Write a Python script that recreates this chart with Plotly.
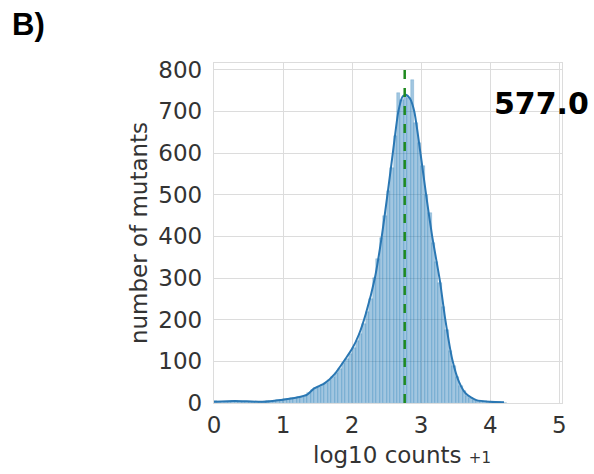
import numpy as np
import plotly.graph_objects as go

# Histogram of log10(counts + 1) per mutant, bins of width 0.05 starting at 0
bin_width = 0.05
bin_counts = [
    4, 2, 1, 2, 3, 5, 4, 2, 2, 3,
    2, 3, 2, 3, 3, 4, 5, 5, 7, 8,
    9, 10, 12, 12, 14, 15, 18, 25, 32, 36,
    38, 44, 48, 55, 62, 72, 82, 95, 105, 118,
    132, 148, 165, 190, 218, 250, 300, 345, 395, 448,
    510, 565, 640, 745, 728, 738, 732, 775, 672, 625,
    570, 500, 455, 385, 338, 288, 230, 175, 125, 90,
    62, 42, 28, 18, 12, 8, 6, 5, 4, 3,
    3, 2, 2, 1, 1,
]
bin_centers = [bin_width * (i + 0.5) for i in range(len(bin_counts))]

# Smoothed density curve (scaled to counts)
kde_x = [0, 0.3, 0.7, 1.0, 1.2, 1.35, 1.45, 1.6, 1.75, 1.9, 2.0, 2.1, 2.2, 2.33,
         2.43, 2.52, 2.59, 2.67, 2.73, 2.78, 2.84, 2.9, 2.99, 3.08, 3.16, 3.27,
         3.35, 3.45, 3.55, 3.65, 3.8, 4.0, 4.2]
kde_y = [3, 5, 3, 8, 13, 20, 35, 47, 70, 105, 130, 165, 215, 300,
         400, 510, 600, 700, 735, 740, 730, 700, 600, 490, 400, 295,
         200, 105, 50, 22, 7, 3, 2]

median_count = 577.0
median_log = np.log10(median_count + 1)

x_ticks = [0, 1, 2, 3, 4, 5]
y_ticks = [0, 100, 200, 300, 400, 500, 600, 700, 800]

fig = go.Figure()

fig.add_trace(go.Bar(
    x=bin_centers, y=bin_counts, width=bin_width,
    marker=dict(color="rgba(31,119,180,0.42)",
                line=dict(color="rgba(31,119,180,0.35)", width=0.6)),
    showlegend=False, hoverinfo="skip",
))

fig.add_trace(go.Scatter(
    x=kde_x, y=kde_y, mode="lines",
    line=dict(color="#2a77b3", width=2, shape="spline", smoothing=0.6),
    showlegend=False, hoverinfo="skip",
))

fig.add_trace(go.Scatter(
    x=[median_log, median_log], y=[0, 816], mode="lines",
    line=dict(color="#1f8a1f", width=2.5, dash="dash"),
    showlegend=False, hoverinfo="skip",
))

text_color = "#333333"
tick_font = dict(family="DejaVu Sans", size=23, color=text_color)

# Plot area in pixels: left 214, right 562, top 63, bottom 403
L, R, T, B = 214, 32, 63, 71
W, H = 594, 474
pw, ph = W - L - R, H - T - B

fig.update_layout(
    width=W, height=H,
    margin=dict(l=L, r=R, t=T, b=B),
    paper_bgcolor="white", plot_bgcolor="white",
    bargap=0,
    xaxis=dict(
        range=[0, 5.04], tickvals=x_ticks, tickfont=tick_font,
        showgrid=True, gridcolor="#dcdcdc", gridwidth=1.3,
        zeroline=False, showline=True, linecolor="#dcdcdc", linewidth=1.3,
        mirror=True, ticks="", ticklabelstandoff=1,
    ),
    yaxis=dict(
        range=[0, 816], tickvals=y_ticks, tickfont=tick_font,
        showgrid=True, gridcolor="#dcdcdc", gridwidth=1.3,
        zeroline=False, showline=True, linecolor="#dcdcdc", linewidth=1.3,
        mirror=True, ticks="", ticklabelstandoff=6,
        title=dict(text="number of mutants",
                   font=dict(family="DejaVu Sans", size=23, color=text_color),
                   standoff=4),
    ),
    annotations=[
        dict(x=4.03, y=718, xref="x", yref="y", text=f"<b>{median_count:.1f}</b>",
             showarrow=False, xanchor="left", yanchor="middle",
             font=dict(family="DejaVu Sans", size=30, color="black")),
        dict(x=(10 - L) / pw, y=1 + (T - 25) / ph, xref="paper", yref="paper",
             text="<b>B)</b>", showarrow=False, xanchor="left", yanchor="middle",
             font=dict(family="Liberation Sans", size=31, color="black")),
        dict(x=(402 - L) / pw, y=-(455 - (T + ph)) / ph, xref="paper", yref="paper",
             text="log10 counts <span style='font-size:15px'>+1</span>",
             showarrow=False, xanchor="center", yanchor="middle",
             font=dict(family="DejaVu Sans", size=23, color=text_color)),
    ],
)

fig.write_html("out.html")
